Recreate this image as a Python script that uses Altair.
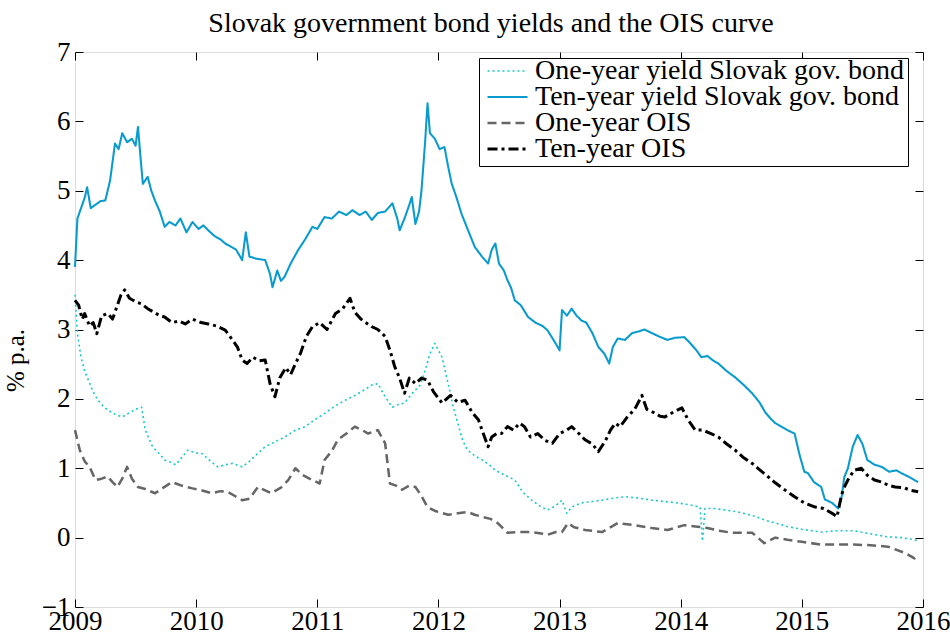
import altair as alt
import pandas as pd

# ---------------- data ----------------
series_names = [
    "One-year yield Slovak gov. bond",
    "Ten-year yield Slovak gov. bond",
    "One-year OIS",
    "Ten-year OIS",
]

t_one_bond = [2009.00, 2009.02, 2009.05, 2009.08, 2009.11, 2009.15, 2009.19, 2009.23, 2009.27, 2009.33,
              2009.39, 2009.45, 2009.50, 2009.55, 2009.58, 2009.64, 2009.70, 2009.74, 2009.80, 2009.83,
              2009.88, 2009.93, 2010.00, 2010.05, 2010.12, 2010.18, 2010.24, 2010.30, 2010.38, 2010.44,
              2010.50, 2010.57, 2010.65, 2010.73, 2010.82, 2010.90, 2010.98, 2011.06, 2011.15, 2011.23,
              2011.31, 2011.39, 2011.45, 2011.50, 2011.56, 2011.62, 2011.67, 2011.72, 2011.77, 2011.81,
              2011.85, 2011.89, 2011.93, 2011.97, 2012.00, 2012.03, 2012.08, 2012.12, 2012.16, 2012.20,
              2012.24, 2012.30, 2012.36, 2012.42, 2012.47, 2012.55, 2012.63, 2012.70, 2012.77, 2012.84,
              2012.90, 2012.96, 2013.02, 2013.06, 2013.10, 2013.18, 2013.27, 2013.35, 2013.45, 2013.54,
              2013.65, 2013.76, 2013.87, 2013.98, 2014.08, 2014.16, 2014.18, 2014.20, 2014.27, 2014.36,
              2014.47, 2014.59, 2014.70, 2014.80, 2014.88, 2015.00, 2015.16, 2015.30, 2015.43, 2015.55,
              2015.71, 2015.82, 2015.93, 2015.96]
v_one_bond = [3.50, 2.94, 2.60, 2.40, 2.27, 2.10, 1.98, 1.90, 1.84, 1.78,
              1.74, 1.80, 1.85, 1.88, 1.55, 1.31, 1.20, 1.12, 1.08, 1.05,
              1.15, 1.26, 1.22, 1.21, 1.10, 1.02, 1.05, 1.07, 1.02, 1.10,
              1.20, 1.31, 1.38, 1.45, 1.55, 1.60, 1.70, 1.79, 1.90, 1.98,
              2.05, 2.13, 2.20, 2.22, 2.03, 1.88, 1.92, 1.94, 2.05, 2.13,
              2.20, 2.41, 2.65, 2.80, 2.70, 2.60, 2.22, 1.90, 1.65, 1.40,
              1.26, 1.18, 1.12, 1.05, 0.97, 0.90, 0.83, 0.65, 0.54, 0.45,
              0.40, 0.45, 0.54, 0.35, 0.44, 0.50, 0.52, 0.54, 0.57, 0.59,
              0.57, 0.54, 0.52, 0.50, 0.47, 0.44, -0.05, 0.42, 0.42, 0.40,
              0.37, 0.32, 0.25, 0.20, 0.16, 0.12, 0.08, 0.10, 0.10, 0.06,
              0.01, 0.00, -0.03, -0.05]

t_ten_bond = [2009.00, 2009.02, 2009.05, 2009.08, 2009.10, 2009.13, 2009.17, 2009.21, 2009.25, 2009.29,
              2009.33, 2009.36, 2009.39, 2009.43, 2009.47, 2009.50, 2009.52, 2009.54, 2009.56, 2009.60,
              2009.63, 2009.66, 2009.70, 2009.74, 2009.78, 2009.83, 2009.87, 2009.92, 2009.97, 2010.02,
              2010.06, 2010.10, 2010.15, 2010.20, 2010.24, 2010.28, 2010.33, 2010.38, 2010.41, 2010.44,
              2010.50, 2010.57, 2010.61, 2010.63, 2010.67, 2010.70, 2010.73, 2010.78, 2010.84, 2010.90,
              2010.96, 2011.00, 2011.06, 2011.12, 2011.18, 2011.24, 2011.29, 2011.35, 2011.40, 2011.45,
              2011.50, 2011.56, 2011.62, 2011.66, 2011.68, 2011.72, 2011.76, 2011.78, 2011.81, 2011.84,
              2011.86, 2011.89, 2011.91, 2011.93, 2011.97, 2012.01, 2012.05, 2012.08, 2012.11, 2012.15,
              2012.19, 2012.24, 2012.30, 2012.36, 2012.41, 2012.44, 2012.47, 2012.50, 2012.54, 2012.57,
              2012.60, 2012.63, 2012.68, 2012.74, 2012.80, 2012.86, 2012.90, 2012.95, 2013.00, 2013.02,
              2013.06, 2013.10, 2013.14, 2013.18, 2013.22, 2013.27, 2013.32, 2013.37, 2013.41, 2013.44,
              2013.48, 2013.54, 2013.60, 2013.65, 2013.70, 2013.76, 2013.82, 2013.89, 2013.95, 2014.03,
              2014.08, 2014.13, 2014.17, 2014.22, 2014.27, 2014.31, 2014.38, 2014.45, 2014.52, 2014.59,
              2014.65, 2014.70, 2014.74, 2014.78, 2014.83, 2014.88, 2014.94, 2014.98, 2015.02, 2015.05,
              2015.10, 2015.16, 2015.19, 2015.25, 2015.30, 2015.33, 2015.35, 2015.38, 2015.42, 2015.46,
              2015.50, 2015.54, 2015.60, 2015.66, 2015.72, 2015.78, 2015.82, 2015.88, 2015.93, 2015.96]
v_ten_bond = [3.90, 4.60, 4.75, 4.90, 5.05, 4.75, 4.80, 4.85, 4.86, 5.15,
              5.68, 5.60, 5.83, 5.70, 5.75, 5.65, 5.92, 5.50, 5.10, 5.20,
              5.00, 4.86, 4.70, 4.48, 4.55, 4.50, 4.60, 4.40, 4.55, 4.45,
              4.50, 4.43, 4.35, 4.30, 4.24, 4.20, 4.15, 4.00, 4.40, 4.05,
              4.02, 4.00, 3.80, 3.61, 3.85, 3.70, 3.76, 3.95, 4.14, 4.30,
              4.48, 4.45, 4.62, 4.60, 4.70, 4.65, 4.72, 4.65, 4.70, 4.58,
              4.68, 4.70, 4.82, 4.60, 4.43, 4.60, 4.80, 4.91, 4.52, 4.70,
              5.00, 5.70, 6.26, 5.83, 5.75, 5.60, 5.63, 5.35, 5.10, 4.90,
              4.67, 4.45, 4.19, 4.05, 3.95, 4.15, 4.24, 3.95, 3.85, 3.71,
              3.60, 3.42, 3.35, 3.18, 3.10, 3.05, 2.99, 2.85, 2.70, 3.28,
              3.20, 3.30, 3.20, 3.13, 3.10, 2.95, 2.75, 2.65, 2.51, 2.75,
              2.87, 2.85, 2.95, 2.97, 3.00, 2.95, 2.90, 2.85, 2.88, 2.89,
              2.80, 2.70, 2.60, 2.62, 2.55, 2.51, 2.40, 2.31, 2.20, 2.08,
              1.95, 1.80, 1.72, 1.65, 1.60, 1.55, 1.50, 1.20, 0.95, 0.93,
              0.80, 0.73, 0.55, 0.50, 0.42, 0.60, 0.87, 1.00, 1.31, 1.48,
              1.35, 1.12, 1.05, 1.02, 0.95, 0.97, 0.93, 0.88, 0.83, 0.80]

t_one_ois = [2009.00, 2009.04, 2009.08, 2009.12, 2009.17, 2009.22, 2009.27, 2009.31, 2009.35, 2009.39,
             2009.43, 2009.47, 2009.52, 2009.58, 2009.66, 2009.73, 2009.80, 2009.88, 2009.97, 2010.05,
             2010.13, 2010.20, 2010.26, 2010.32, 2010.38, 2010.44, 2010.51, 2010.57, 2010.62, 2010.70,
             2010.76, 2010.82, 2010.88, 2010.96, 2011.02, 2011.06, 2011.12, 2011.17, 2011.24, 2011.31,
             2011.37, 2011.42, 2011.50, 2011.56, 2011.60, 2011.65, 2011.70, 2011.76, 2011.81, 2011.86,
             2011.91, 2011.98, 2012.08, 2012.16, 2012.24, 2012.30, 2012.36, 2012.43, 2012.49, 2012.54,
             2012.57, 2012.65, 2012.77, 2012.85, 2012.90, 2012.97, 2013.02, 2013.07, 2013.12, 2013.21,
             2013.35, 2013.48, 2013.62, 2013.76, 2013.89, 2014.03, 2014.12, 2014.22, 2014.32, 2014.42,
             2014.59, 2014.69, 2014.78, 2014.88, 2015.00, 2015.16, 2015.30, 2015.43, 2015.57, 2015.71,
             2015.85, 2015.93, 2015.96]
v_one_ois = [1.55, 1.26, 1.10, 1.02, 0.83, 0.85, 0.88, 0.80, 0.73, 0.85,
             1.02, 0.85, 0.73, 0.70, 0.64, 0.72, 0.80, 0.75, 0.71, 0.68,
             0.64, 0.67, 0.66, 0.60, 0.54, 0.56, 0.73, 0.68, 0.64, 0.72,
             0.83, 1.00, 0.90, 0.83, 0.78, 1.12, 1.25, 1.41, 1.50, 1.60,
             1.55, 1.50, 1.55, 1.36, 0.78, 0.75, 0.69, 0.75, 0.73, 0.60,
             0.44, 0.38, 0.33, 0.35, 0.37, 0.33, 0.30, 0.27, 0.21, 0.12,
             0.07, 0.08, 0.08, 0.06, 0.04, 0.08, 0.08, 0.21, 0.15, 0.11,
             0.08, 0.21, 0.18, 0.14, 0.11, 0.18, 0.16, 0.14, 0.10, 0.07,
             0.07, -0.08, 0.00, -0.03, -0.06, -0.10, -0.10, -0.10, -0.11, -0.13,
             -0.22, -0.30, -0.25]

t_ten_ois = [2009.00, 2009.03, 2009.06, 2009.08, 2009.12, 2009.15, 2009.18, 2009.22, 2009.27, 2009.31,
             2009.35, 2009.38, 2009.41, 2009.45, 2009.50, 2009.55, 2009.60, 2009.65, 2009.70, 2009.74,
             2009.80, 2009.86, 2009.91, 2009.97, 2010.04, 2010.10, 2010.17, 2010.24, 2010.30, 2010.34,
             2010.38, 2010.42, 2010.47, 2010.52, 2010.57, 2010.61, 2010.65, 2010.69, 2010.74, 2010.78,
             2010.82, 2010.86, 2010.91, 2010.96, 2011.02, 2011.08, 2011.15, 2011.21, 2011.27, 2011.31,
             2011.36, 2011.40, 2011.45, 2011.50, 2011.56, 2011.60, 2011.64, 2011.68, 2011.72, 2011.76,
             2011.81, 2011.86, 2011.91, 2011.96, 2012.03, 2012.10, 2012.16, 2012.22, 2012.28, 2012.33,
             2012.36, 2012.41, 2012.44, 2012.48, 2012.52, 2012.57, 2012.62, 2012.67, 2012.71, 2012.76,
             2012.82, 2012.88, 2012.94, 2013.00, 2013.06, 2013.10, 2013.16, 2013.21, 2013.27, 2013.32,
             2013.38, 2013.42, 2013.46, 2013.50, 2013.56, 2013.62, 2013.68, 2013.72, 2013.78, 2013.83,
             2013.87, 2013.93, 2014.01, 2014.06, 2014.12, 2014.18, 2014.25, 2014.31, 2014.38, 2014.45,
             2014.52, 2014.59, 2014.65, 2014.72, 2014.78, 2014.85, 2014.94, 2015.02, 2015.11, 2015.18,
             2015.25, 2015.29, 2015.32, 2015.34, 2015.38, 2015.43, 2015.49, 2015.54, 2015.60, 2015.66,
             2015.72, 2015.77, 2015.84, 2015.90, 2015.96]
v_ten_ois = [3.42, 3.35, 3.15, 3.23, 3.05, 3.10, 2.94, 3.20, 3.23, 3.15,
             3.35, 3.50, 3.57, 3.45, 3.40, 3.37, 3.30, 3.25, 3.20, 3.18,
             3.10, 3.12, 3.08, 3.15, 3.10, 3.08, 3.05, 2.99, 2.85, 2.75,
             2.56, 2.51, 2.60, 2.55, 2.56, 2.22, 2.03, 2.30, 2.45, 2.35,
             2.51, 2.65, 2.90, 3.04, 3.10, 3.00, 3.23, 3.30, 3.45, 3.25,
             3.15, 3.10, 3.04, 3.00, 2.90, 2.70, 2.46, 2.30, 2.08, 2.30,
             2.22, 2.30, 2.27, 2.10, 1.94, 2.05, 1.95, 1.98, 1.80, 1.70,
             1.55, 1.31, 1.45, 1.50, 1.50, 1.60, 1.55, 1.65, 1.60, 1.45,
             1.50, 1.40, 1.36, 1.50, 1.55, 1.60, 1.50, 1.41, 1.35, 1.24,
             1.40, 1.55, 1.65, 1.60, 1.74, 1.85, 2.05, 1.85, 1.80, 1.75,
             1.74, 1.80, 1.87, 1.70, 1.55, 1.55, 1.50, 1.45, 1.35, 1.26,
             1.15, 1.07, 0.98, 0.88, 0.79, 0.70, 0.59, 0.50, 0.44, 0.42,
             0.35, 0.30, 0.55, 0.69, 0.83, 0.97, 1.00, 0.90, 0.83, 0.80,
             0.75, 0.73, 0.72, 0.68, 0.66]

x_ticks = [2009, 2010, 2011, 2012, 2013, 2014, 2015, 2016]
y_ticks = [-1, 0, 1, 2, 3, 4, 5, 6, 7]

series_colors = ["#19C9C9", "#0A9BCE", "#666666", "#000000"]
series_dashes = [[2, 3], [1, 0], [9, 5], [10, 4, 3, 4]]
series_widths = [1.6, 3, 3, 3]

# ---------------- table ----------------
frames = []
for name, ts, vs in zip(series_names,
                        [t_one_bond, t_ten_bond, t_one_ois, t_ten_ois],
                        [v_one_bond, v_ten_bond, v_one_ois, v_ten_ois]):
    frames.append(pd.DataFrame({"t": ts, "v": vs, "series": name}))
df = pd.concat(frames, ignore_index=True)

FONT = "Liberation Serif"

x_scale = alt.Scale(domain=[2009, 2016], nice=False, zero=False)
y_scale = alt.Scale(domain=[-1, 7], nice=False, zero=False)

tick_style = dict(grid=False, domain=False, tickSize=8, offset=-8, tickColor="black", tickWidth=1)
label_style = dict(labelFont=FONT, labelFontSize=27, labelColor="black",
                   labelOverlap=False, labelFlush=False, labelBound=False)

lines = alt.Chart(df).mark_line(strokeJoin="round").encode(
    x=alt.X("t:Q", scale=x_scale,
            axis=alt.Axis(orient="bottom", values=x_ticks, format="d", labelPadding=1,
                          title=None, **tick_style, **label_style)),
    y=alt.Y("v:Q", scale=y_scale,
            axis=alt.Axis(orient="left", values=y_ticks, format="d", labelPadding=5,
                          title="% p.a.", titleFont=FONT, titleFontSize=25,
                          titleFontWeight="normal", titleColor="black",
                          titlePadding=13, titleY=308, **tick_style, **label_style)),
    color=alt.Color("series:N", sort=series_names,
                    scale=alt.Scale(domain=series_names, range=series_colors),
                    legend=alt.Legend(title=None, orient="none", legendX=404, legendY=6,
                                      symbolType="stroke", symbolSize=1600,
                                      symbolStrokeWidth=3, labelLimit=0,
                                      clipHeight=20, rowPadding=-2,
                                      labelFont=FONT, labelFontSize=28, labelColor="black",
                                      strokeColor="black", fillColor="white",
                                      padding=3, labelOffset=6, symbolOffset=4)),
    strokeDash=alt.StrokeDash("series:N", sort=series_names,
                              scale=alt.Scale(domain=series_names, range=series_dashes),
                              legend=None),
    strokeWidth=alt.StrokeWidth("series:N", sort=series_names,
                                scale=alt.Scale(domain=series_names, range=series_widths),
                                legend=None),
    detail="series:N",
    order=alt.Order("t:Q"),
)

mirror = alt.Chart(df).mark_point(opacity=0).encode(
    x=alt.X("t:Q", scale=x_scale,
            axis=alt.Axis(orient="top", values=x_ticks, labels=False, title=None, **tick_style)),
    y=alt.Y("v:Q", scale=y_scale,
            axis=alt.Axis(orient="right", values=y_ticks, labels=False, title=None, **tick_style)),
)

chart = alt.layer(lines, mirror).resolve_axis(x="independent", y="independent").properties(
    width=848, height=555,
    title=alt.TitleParams("Slovak government bond yields and the OIS curve", font=FONT,
                          fontSize=28, fontWeight="normal", color="black",
                          anchor="middle", frame="group", offset=0, dx=-8),
    autosize=alt.AutoSizeParams(type="none"),
    padding={"left": 75, "top": 52, "right": 27, "bottom": 30},
).configure_view(stroke="black", strokeWidth=1.5).configure(background="white")

chart.save("out.html", embed_options={"renderer": "svg", "actions": False})
